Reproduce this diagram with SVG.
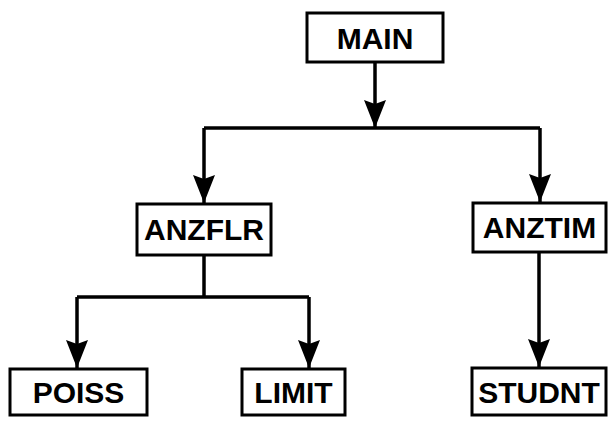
<svg xmlns="http://www.w3.org/2000/svg" width="612" height="422" viewBox="0 0 612 422">
<style>
.box{fill:#fff;stroke:#000;stroke-width:3}
.lbl{font-family:"Liberation Sans",Arial,sans-serif;font-weight:bold;font-size:30px;text-anchor:middle;fill:#000}
.ln{stroke:#000;stroke-width:3.5;fill:none}
</style>
<defs>
<marker id="ah" markerUnits="userSpaceOnUse" markerWidth="30" markerHeight="24" viewBox="0 0 30 24" refX="29" refY="12" orient="auto">
<path d="M1,1 L29,12 L1,23 L5,12 Z" fill="#000"/>
</marker>
</defs>
<rect width="612" height="422" fill="#fff"/>
<g id="connectors">
<path class="ln" d="M375,62 V128" marker-end="url(#ah)"/>
<path class="ln" d="M204,128 H540"/>
<path class="ln" d="M204,128 V203" marker-end="url(#ah)"/>
<path class="ln" d="M540,128 V202" marker-end="url(#ah)"/>
<path class="ln" d="M204,255 V297"/>
<path class="ln" d="M77,297 H309"/>
<path class="ln" d="M77,297 V368" marker-end="url(#ah)"/>
<path class="ln" d="M309,297 V368" marker-end="url(#ah)"/>
<path class="ln" d="M539,252 V367" marker-end="url(#ah)"/>
</g>
<g id="MAIN"><rect class="box" x="307" y="13" width="136" height="49"/><text class="lbl" x="375" y="49">MAIN</text></g>
<g id="ANZFLR"><rect class="box" x="137" y="204" width="134" height="51"/><text class="lbl" x="204" y="240">ANZFLR</text></g>
<g id="ANZTIM"><rect class="box" x="473" y="203" width="133" height="49"/><text class="lbl" x="539.5" y="238">ANZTIM</text></g>
<g id="POISS"><rect class="box" x="10" y="369" width="137" height="46"/><text class="lbl" x="78.5" y="403">POISS</text></g>
<g id="LIMIT"><rect class="box" x="242" y="369" width="103" height="46"/><text class="lbl" x="293.5" y="403">LIMIT</text></g>
<g id="STUDNT"><rect class="box" x="472" y="368" width="134" height="47"/><text class="lbl" x="539" y="403">STUDNT</text></g>
</svg>
